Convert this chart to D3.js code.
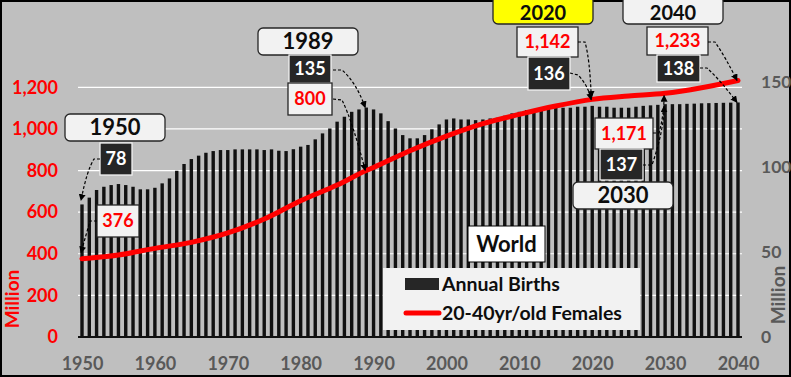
<!DOCTYPE html>
<html>
<head>
<meta charset="utf-8">
<script src="https://cdn.jsdelivr.net/npm/d3@7"></script>
<style>
  body { margin: 0; background: #fff; }
  svg { display: block; font-family: Lato, "Open Sans", sans-serif; font-weight: bold; }
</style>
</head>
<body>
<script>
// annual births, millions, 1950..2040 (right axis)
const years = d3.range(1950, 2041);
const births = [
  78, 82, 86.5, 88.4, 89.4, 90, 89.4, 88.4, 86.9, 86.9,
  87.8, 90.4, 93.3, 97.8, 101.8, 104.7, 106.7, 108.4, 109.4, 110,
  110, 110.4, 110.4, 110.4, 110.4, 110, 110.4, 109.6, 109.4, 110.5,
  112, 113, 116.3, 119.8, 122.7, 126.7, 129.6, 132.5, 133.9, 135,
  133.9, 131.6, 127, 122.7, 118.8, 116.9, 116.9, 118.8, 122.2, 125.1,
  128, 128.6, 128, 128, 127.6, 128, 128.6, 129, 130.2, 131.6,
  132.5, 133.5, 134.1, 134.5, 134.5, 134.9, 134.9, 134.9, 135.5, 135.5,
  136, 135.5, 135.5, 134.9, 134.9, 134.9, 135.5, 136, 136.3, 136.6,
  137, 137, 137, 137.2, 137.3, 137.5, 137.6, 137.7, 137.8, 137.9,
  138
];

// 20-40yr old females, millions (left axis)
const femaleYears = [1950, 1955, 1960, 1965, 1970, 1975, 1980, 1985, 1989, 1990,
  1995, 2000, 2005, 2010, 2015, 2020, 2025, 2030, 2035, 2040];
const females = [376, 394, 426, 455, 500, 567, 655, 730, 800, 815,
  895, 965, 1025, 1070, 1110, 1142, 1158, 1171, 1198, 1233];

const leftTicks = [0, 200, 400, 600, 800, 1000, 1200];
const rightTicks = [0, 50, 100, 150];
const xTicks = [1950, 1960, 1970, 1980, 1990, 2000, 2010, 2020, 2030, 2040];
const calloutYears = [1950, 1989, 2020, 2030, 2040];

const width = 791;
const height = 377;

const svg = d3.select("body").append("svg")
  .attr("width", width)
  .attr("height", height);

svg.append("defs").append("marker")
  .attr("id", "head")
  .attr("viewBox", "0 0 10 10")
  .attr("refX", 9).attr("refY", 5)
  .attr("markerWidth", 7).attr("markerHeight", 7)
  .attr("markerUnits", "userSpaceOnUse")
  .attr("orient", "auto")
  .append("path")
  .attr("d", "M0,0 L10,5 L0,10 z")
  .attr("fill", "#000");

svg.append("rect")
  .attr("x", 1).attr("y", 1)
  .attr("width", width - 2).attr("height", height - 2)
  .attr("fill", "#bfbfbf")
  .attr("stroke", "#000")
  .attr("stroke-width", 2);

const x = d3.scaleLinear().domain([1950, 2040]).range([82, 738]);
const yL = d3.scaleLinear().domain([0, 1400]).range([337, 45.7]);
const yR = d3.scaleLinear().domain([0, 171.4]).range([337, 45.7]);

// gridlines
svg.append("g")
  .selectAll("line")
  .data(leftTicks.slice(1))
  .enter()
  .append("line")
  .attr("x1", 78).attr("x2", 742)
  .attr("y1", (d) => yL(d)).attr("y2", (d) => yL(d))
  .attr("stroke", "#fff")
  .attr("stroke-width", 1.2);

// bars
svg.append("g")
  .selectAll("rect")
  .data(years)
  .enter()
  .append("rect")
  .attr("x", (d) => x(d) - 1.7)
  .attr("width", 3.4)
  .attr("y", (d, i) => yR(births[i]))
  .attr("height", (d, i) => yR(0) - yR(births[i]))
  .attr("fill", "#111");

svg.append("line")
  .attr("x1", 78).attr("x2", 742)
  .attr("y1", 337).attr("y2", 337)
  .attr("stroke", "#111")
  .attr("stroke-width", 2);

// females line
const line = d3.line()
  .x((d) => x(d))
  .y((d, i) => yL(females[i]))
  .curve(d3.curveMonotoneX);

svg.append("path")
  .attr("d", line(femaleYears))
  .attr("fill", "none")
  .attr("stroke", "#ff0000")
  .attr("stroke-width", 5)
  .attr("stroke-linecap", "round");

// axes
const axisL = svg.append("g")
  .attr("transform", "translate(78,0)")
  .call(d3.axisLeft(yL).tickValues(leftTicks).tickFormat(d3.format(",")).tickSize(0).tickPadding(20));
const axisR = svg.append("g")
  .attr("transform", "translate(742,0)")
  .call(d3.axisRight(yR).tickValues(rightTicks).tickSize(0).tickPadding(19));
const axisX = svg.append("g")
  .attr("transform", "translate(0,356)")
  .call(d3.axisBottom(x).tickValues(xTicks).tickFormat(d3.format("d")).tickSize(0).tickPadding(0));

[axisL, axisR, axisX].forEach((g) => {
  g.select(".domain").remove();
  g.selectAll("text")
    .style("font-family", "Lato, sans-serif")
    .style("font-weight", "bold")
    .style("font-size", "18px");
});
axisL.selectAll("text").attr("fill", "#ff0000");
axisR.selectAll("text").attr("fill", "#595959").style("font-size", "17.5px");
axisX.selectAll("text").attr("fill", "#595959").attr("dy", "0.75em");

svg.append("text")
  .attr("transform", "translate(19,299) rotate(-90)")
  .attr("text-anchor", "middle")
  .attr("fill", "#ff0000")
  .style("font-size", "19px")
  .text("Million");

svg.append("text")
  .attr("transform", "translate(785,295) rotate(-90)")
  .attr("text-anchor", "middle")
  .attr("fill", "#595959")
  .style("font-size", "19px")
  .text("Million");

// callouts
const fmt = d3.format(",");
const box = (bx, by, w, h, opts) => {
  svg.append("rect")
    .attr("x", bx).attr("y", by)
    .attr("width", w).attr("height", h)
    .attr("rx", opts.rx || 0)
    .attr("fill", opts.fill)
    .attr("stroke", opts.stroke)
    .attr("stroke-width", 1.3);
  svg.append("text")
    .attr("x", bx + w / 2)
    .attr("y", by + h / 2 + (opts.ty || 0))
    .attr("dy", "0.36em")
    .attr("text-anchor", "middle")
    .attr("fill", opts.color)
    .style("font-size", opts.size + "px")
    .text(opts.text);
};

const yearBox = (bx, by, h, yr, fill, size, ty) =>
  box(bx, by, 100, h, { rx: 5, fill: fill || "#f2f2f2", stroke: "#262626", color: "#0d0d0d", size: size || 22, ty, text: yr });
const femBox = (bx, by, w, h, yr) =>
  box(bx, by, w, h, { fill: "#f2f2f2", stroke: "#262626", color: "#ff0000", size: 18, text: fmt(females[femaleYears.indexOf(yr)]) });
const birthBox = (bx, by, w, h, yr) =>
  box(bx, by, w, h, { fill: "#262626", stroke: "#f2f2f2", color: "#fff", size: 18, text: births[years.indexOf(yr)] });

const arrow = (pts, yr, yv) => {
  const p = d3.path();
  p.moveTo(pts[0][0], pts[0][1]);
  p.lineTo(pts[1][0], pts[1][1]);
  p.quadraticCurveTo(pts[2][0], pts[2][1], x(yr) - 1, yv);
  svg.append("path")
    .attr("d", p.toString())
    .attr("fill", "none")
    .attr("stroke", "#000")
    .attr("stroke-width", 1.2)
    .attr("stroke-dasharray", "3,2")
    .attr("marker-end", "url(#head)");
};

const [c1950, c1989, c2020, c2030, c2040] = calloutYears;

// 1950
yearBox(65, 114, 27, c1950);
birthBox(100, 143, 32, 32, c1950);
femBox(97, 205, 42, 32, c1950);
arrow([[100, 159], [94, 159], [87, 170]], c1950, yR(births[0]) - 4);
arrow([[97, 221], [90, 221], [86, 235]], c1950, yL(females[0]) - 6);

// 1989
yearBox(258, 28, 27, c1989);
birthBox(289, 55, 42, 28, c1989);
femBox(288, 83, 44, 32, c1989);
arrow([[333, 70], [342, 70], [356, 82]], c1989, yR(births[years.indexOf(c1989)]));
arrow([[333, 99], [342, 100], [352, 120]], c1989, yL(females[femaleYears.indexOf(c1989)]));

// 2020
yearBox(493, -4, 28, c2020, "#ffff00", 20, 2.8);
femBox(517, 27, 61, 30, c2020);
birthBox(528, 57, 42, 33, c2020);
arrow([[578, 42], [585, 42], [590, 60]], c2020, yL(females[femaleYears.indexOf(c2020)]) - 2);
arrow([[570, 73], [578, 75], [588, 85]], c2020, yR(births[years.indexOf(c2020)]) - 6);

// 2030
femBox(595, 118, 58, 31, c2030);
birthBox(600, 149, 43, 31, c2030);
yearBox(573, 182, 27, c2030);
arrow([[653, 133], [659, 133], [664, 115]], c2030, yL(females[femaleYears.indexOf(c2030)]) + 2);
arrow([[643, 165], [652, 165], [664, 130]], c2030, yR(births[years.indexOf(c2030)]) + 2);

// 2040
yearBox(623, -4, 28, c2040, null, 20, 2.8);
femBox(647, 27, 61, 28, c2040);
birthBox(657, 55, 43, 27, c2040);
arrow([[708, 42], [715, 42], [726, 58]], c2040, yL(females[femaleYears.indexOf(c2040)]));
arrow([[700, 68], [707, 68], [722, 82]], c2040, yR(births[years.indexOf(c2040)]));

// title + legend
svg.append("rect")
  .attr("x", 468).attr("y", 226)
  .attr("width", 77).attr("height", 36)
  .attr("fill", "#fff")
  .attr("stroke", "#000")
  .attr("stroke-width", 1);
svg.append("text")
  .attr("x", 506.5).attr("y", 244)
  .attr("dy", "0.36em")
  .attr("text-anchor", "middle")
  .attr("fill", "#0d0d0d")
  .style("font-size", "22px")
  .text("World");

const legend = svg.append("g");
legend.append("rect")
  .attr("x", 383).attr("y", 268)
  .attr("width", 257).attr("height", 62)
  .attr("fill", "#f2f2f2");
legend.append("rect")
  .attr("x", 405).attr("y", 278)
  .attr("width", 34).attr("height", 12)
  .attr("fill", "#262626");
legend.append("line")
  .attr("x1", 406).attr("x2", 439)
  .attr("y1", 313).attr("y2", 313)
  .attr("stroke", "#ff0000")
  .attr("stroke-width", 5)
  .attr("stroke-linecap", "round");
legend.selectAll("text")
  .data(["Annual Births", "20-40yr/old Females"])
  .enter()
  .append("text")
  .attr("x", 442)
  .attr("y", (d, i) => 284 + i * 29)
  .attr("dy", "0.36em")
  .attr("fill", "#0d0d0d")
  .style("font-size", "19.5px")
  .text((d) => d);
</script>
</body>
</html>
